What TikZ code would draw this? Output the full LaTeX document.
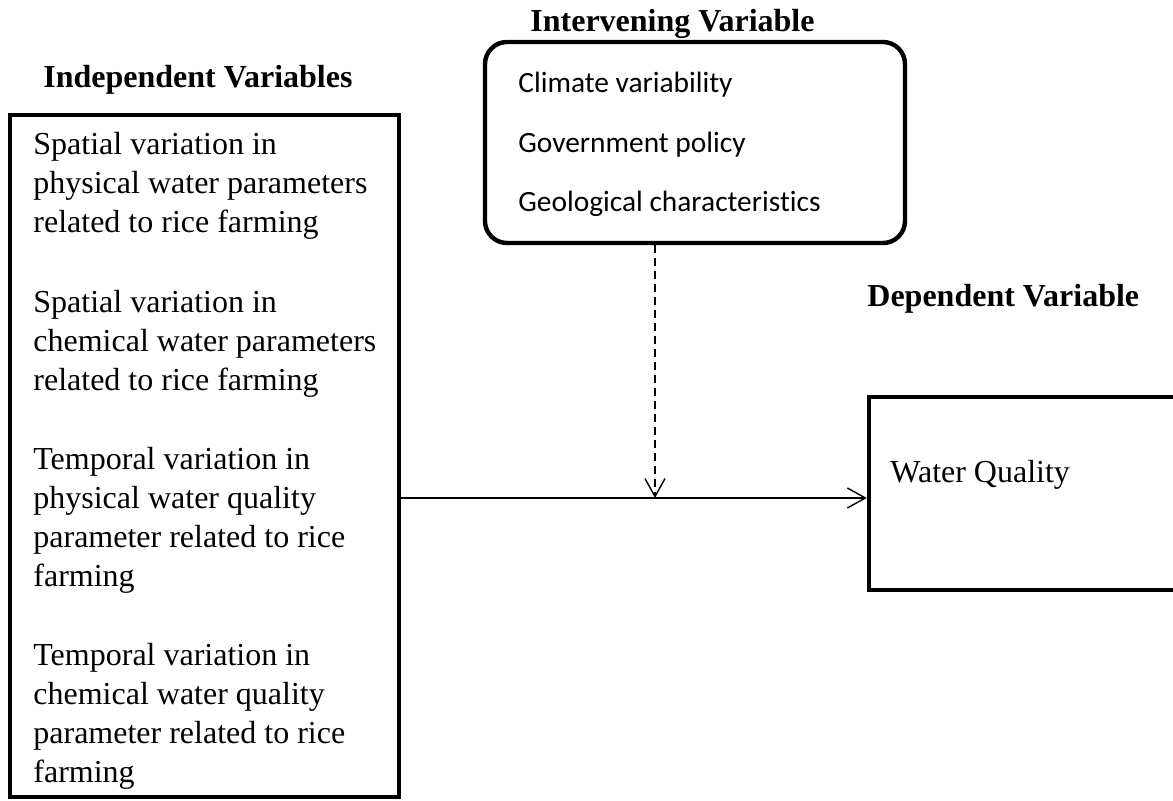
\documentclass[tikz,border=0pt]{standalone}
\usepackage{fontspec}
\setmainfont{Liberation Serif}
\newfontfamily\calibri[Ligatures=NoCommon]{Carlito}
\usetikzlibrary{positioning,arrows.meta}
\tikzset{
varbox/.style={draw, line width=2.2pt, inner sep=0pt},
head/.style={font=\fontsize{16}{19.5}\selectfont\bfseries, anchor=base west, inner sep=0pt},
item/.style={font=\fontsize{16}{19.5}\selectfont, align=left, anchor=base west, inner sep=0pt},
factor/.style={font=\calibri\fontsize{14.7}{29.75}\selectfont, align=left, anchor=base west, inner sep=0pt},
link/.style={line width=0.7pt}
}

\begin{document}
\begin{tikzpicture}[x=0.5pt, y=-0.5pt, >={Straight Barb[length=9pt,width=10pt]}]
  \useasboundingbox (0,0) rectangle (1173,801);
  \clip (0,0) rectangle (1173,801);
  \node[varbox, minimum width=194.5pt, minimum height=341pt] (indep) at (204.5,456) {};
  \node[varbox, rounded corners=11pt, minimum width=210pt, minimum height=100.5pt] (interv) at (695,142.5) {};
  \node[varbox, minimum width=160.5pt, minimum height=96.5pt] (dep) at (1029.5,493.5) {};
  \node[head] (indephead) at (43,88) {Independent Variables};
  \node[head] (intervhead) at (530,32) {Intervening Variable};
  \node[head] (dephead) at (867,307) {Dependent Variable};
  \node[item] (spatphys) at (33,233) {Spatial variation in\\physical water parameters\\related to rice farming};
  \node[item] (spatchem) at (33,391) {Spatial variation in\\chemical water parameters\\related to rice farming};
  \node[item] (tempphys) at (33,587) {Temporal variation in\\physical water quality\\parameter related to rice\\farming};
  \node[item] (tempchem) at (33,782) {Temporal variation in\\chemical water quality\\parameter related to rice\\farming};
  \node[factor] (factors) at (518,212) {Climate variability\\Government policy\\Geological characteristics};
  \node[item] (quality) at (890,483) {Water Quality};
  \coordinate (meet) at (655,498);
  \draw[link, ->] (indep.east |- meet) -- (dep.west |- meet);
  \draw[link, ->, dash pattern=on 4pt off 2.5pt] (interv.south -| meet) -- (meet);
\end{tikzpicture}
\end{document}
